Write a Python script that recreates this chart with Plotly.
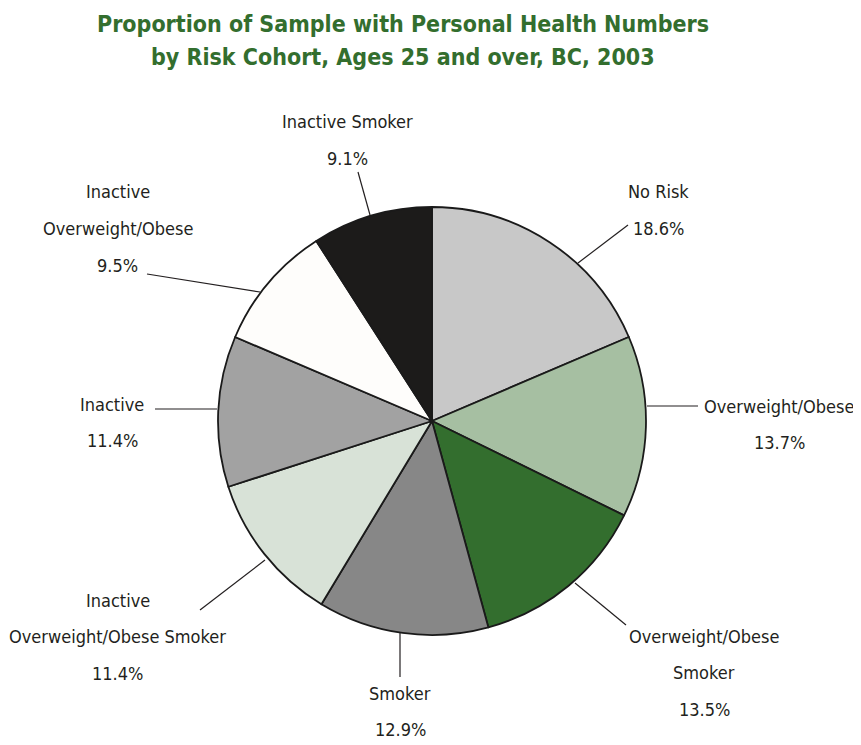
import plotly.graph_objects as go

W, H = 861, 745
OFF = 8  # default body margin of the html page
FW, FH = W - OFF, H - OFF

labels = ["No Risk", "Overweight/Obese", "Overweight/Obese Smoker", "Smoker",
          "Inactive Overweight/Obese Smoker", "Inactive", "Inactive Overweight/Obese",
          "Inactive Smoker"]
values = [18.6, 13.7, 13.5, 12.9, 11.4, 11.4, 9.5, 9.1]
colors = ["#c8c8c8", "#a6bfa2", "#336e2e", "#878787", "#d8e2d7", "#a2a2a2", "#fefdfb", "#1c1b1a"]

# how each label is broken into lines in the reference
label_lines = [["No Risk"], ["Overweight/Obese"], ["Overweight/Obese", "Smoker"], ["Smoker"],
               ["Inactive", "Overweight/Obese Smoker"], ["Inactive"],
               ["Inactive", "Overweight/Obese"], ["Inactive Smoker"]]

title_lines = ["Proportion of Sample with Personal Health Numbers",
               "by Risk Cohort, Ages 25 and over, BC, 2003"]

# layout: label block anchor (center x, first-line center y) and leader line endpoints (page pixels)
label_pos = [(658, 192), (779, 406), (704, 636), (400, 693), (118, 600), (112, 404), (118, 192), (347, 122)]
leaders = [((578, 263), (628, 225)), ((647, 406), (698, 406)), ((575, 583), (626, 625)),
           ((400, 633), (400, 677)), ((265, 560), (200, 610)), ((155, 409), (217, 409)),
           ((147, 274), (260, 292)), ((358, 172), (370, 215))]
LINE_STEP = 36.5

def px(x):
    return (x - OFF) / FW

def py(y):
    return 1 - (y - OFF) / FH

FONT = "DejaVu Sans Condensed, Liberation Sans Narrow, sans-serif"

cx, cy, r = 432, 421, 214

fig = go.Figure(go.Pie(
    labels=labels, values=values, sort=False, direction="clockwise", rotation=0,
    marker=dict(colors=colors, line=dict(color="#1a1a1a", width=1.8)),
    textinfo="none", hoverinfo="label+percent", showlegend=False,
    domain=dict(x=[px(cx - r), px(cx + r)], y=[py(cy + r), py(cy - r)]),
))

annotations = []
for (tx, ty), lines, v in zip(label_pos, label_lines, values):
    allLines = lines + [f"{v:.1f}%"]
    for i, t in enumerate(allLines):
        annotations.append(dict(x=px(tx), y=py(ty + i * LINE_STEP), xref="paper", yref="paper",
                                text=t, showarrow=False, xanchor="center", yanchor="middle",
                                font=dict(family=FONT, size=18, color="#231f20")))

for i, t in enumerate(title_lines):
    annotations.append(dict(x=px(403), y=py(24 + i * 33), xref="paper", yref="paper",
                            text=f"<b>{t}</b>", showarrow=False, xanchor="center", yanchor="middle",
                            font=dict(family=FONT, size=23, color="#336e2e")))

shapes = []
for (x0, y0), (x1, y1) in leaders:
    shapes.append(dict(type="line", xref="paper", yref="paper",
                       x0=px(x0), y0=py(y0), x1=px(x1), y1=py(y1),
                       line=dict(color="#231f20", width=1.2)))

fig.update_layout(width=FW, height=FH, margin=dict(l=0, r=0, t=0, b=0),
                  paper_bgcolor="white", plot_bgcolor="white",
                  annotations=annotations, shapes=shapes)

fig.write_html("out.html")
